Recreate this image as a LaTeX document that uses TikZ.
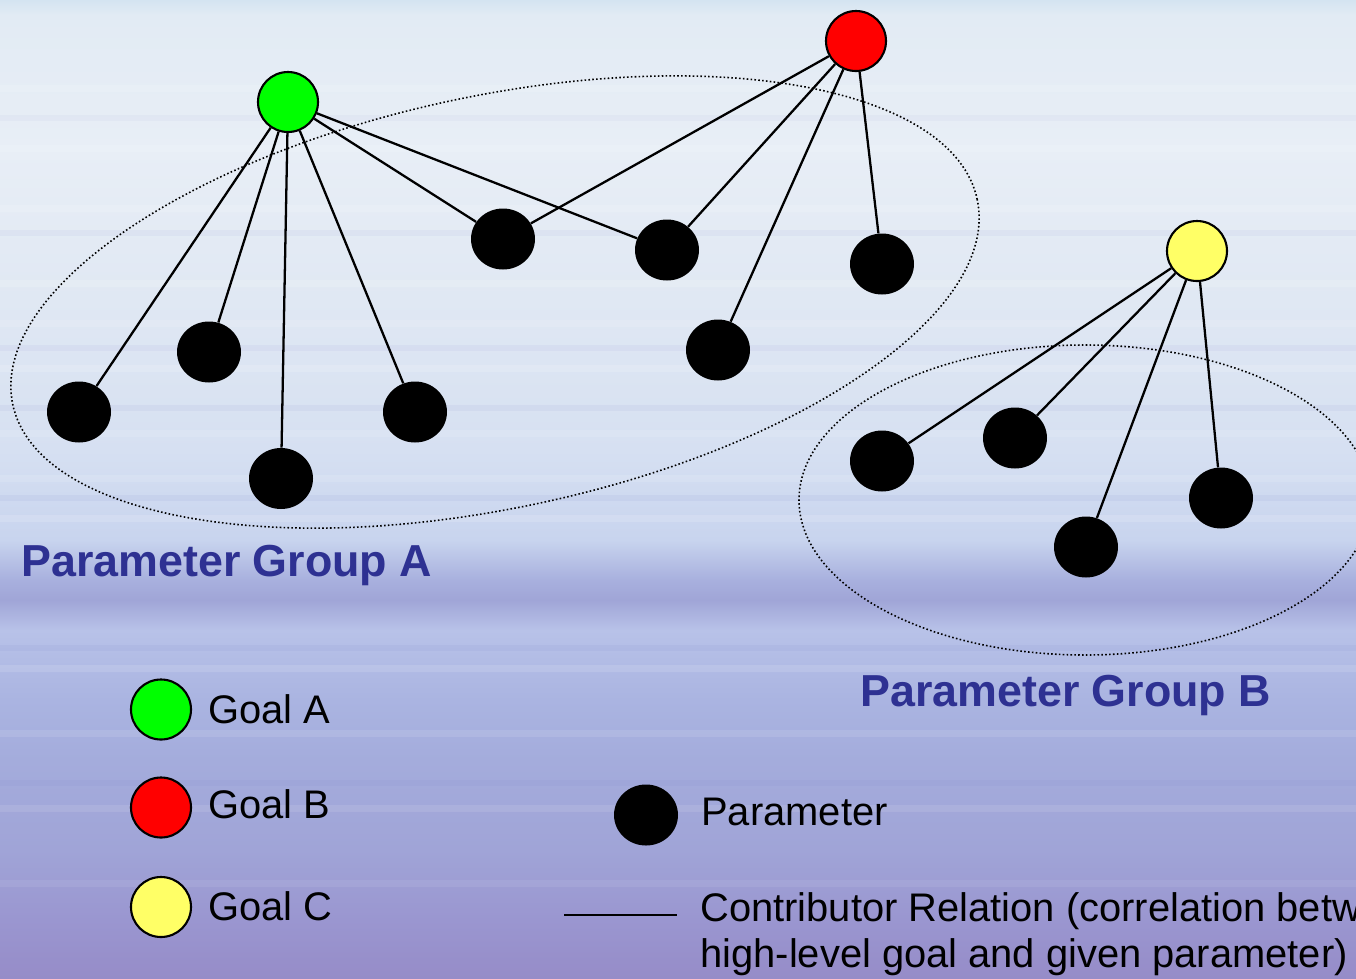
\documentclass[tikz,border=0pt]{standalone}
\usepackage{fontspec}
\setmainfont{Liberation Sans}
\usetikzlibrary{shapes.geometric}
\definecolor{grpblue}{RGB}{46,49,146}
\definecolor{goalyellow}{RGB}{255,255,102}
\definecolor{bg0}{RGB}{212,228,241}
\definecolor{bg1}{RGB}{226,235,244}
\definecolor{bg2}{RGB}{232,238,246}
\definecolor{bg3}{RGB}{224,232,243}
\definecolor{bg4}{RGB}{214,224,242}
\definecolor{bg5}{RGB}{200,212,238}
\definecolor{bg6}{RGB}{168,176,222}
\definecolor{bg7}{RGB}{160,165,215}
\definecolor{bg8}{RGB}{184,194,232}
\definecolor{bg9}{RGB}{170,180,225}
\definecolor{bg10}{RGB}{164,172,220}
\definecolor{bg11}{RGB}{160,164,215}
\definecolor{bg12}{RGB}{154,150,208}
\definecolor{bg13}{RGB}{150,140,200}
\tikzset{
  goal/.style={circle, draw=black, line width=1.2pt, minimum size=1.2cm, inner sep=0pt},
  param/.style={ellipse, fill=black, minimum width=1.28cm, minimum height=1.22cm, inner sep=0pt},
  edge/.style={draw=black, line width=1.3pt},
  grp/.style={draw=black, line width=0.9pt, dash pattern=on 0.9pt off 1.3pt},
  grplabel/.style={anchor=base west, inner sep=0pt, text=grpblue, font=\fontsize{25.5}{30}\selectfont\bfseries},
  legtext/.style={anchor=base west, inner sep=0pt, text=black, font=\fontsize{22.7}{27}\selectfont},
}
\begin{document}
\begin{tikzpicture}
\useasboundingbox (0,0) rectangle (27.12,-19.56);
\clip (0,0) rectangle (27.12,-19.56);
% background bands (py/50)
\shade[top color=bg0, bottom color=bg1] (0,0) rectangle (27.12,-0.3);
\shade[top color=bg1, bottom color=bg2] (0,-0.3) rectangle (27.12,-3);
\shade[top color=bg2, bottom color=bg3] (0,-3) rectangle (27.12,-6);
\shade[top color=bg3, bottom color=bg4] (0,-6) rectangle (27.12,-9);
\shade[top color=bg4, bottom color=bg5] (0,-9) rectangle (27.12,-10.8);
\shade[top color=bg5, bottom color=bg6] (0,-10.8) rectangle (27.12,-11.6);
\shade[top color=bg6, bottom color=bg7] (0,-11.6) rectangle (27.12,-12);
\shade[top color=bg7, bottom color=bg8] (0,-12) rectangle (27.12,-12.6);
\shade[top color=bg8, bottom color=bg9] (0,-12.6) rectangle (27.12,-14);
\shade[top color=bg9, bottom color=bg10] (0,-14) rectangle (27.12,-15.2);
\shade[top color=bg10, bottom color=bg11] (0,-15.2) rectangle (27.12,-17);
\shade[top color=bg11, bottom color=bg12] (0,-17) rectangle (27.12,-18.4);
\shade[top color=bg12, bottom color=bg13] (0,-18.4) rectangle (27.12,-19.56);
% subtle streaks
\foreach \y/\o in {-1.7/0.15,-2.9/0.12,-4.1/0.12,-5.6/0.15,-6.4/0.12,-7.3/0.15,-8.6/0.12,-9.5/0.12,-10.3/0.15,-13.3/0.12,-14.6/0.1,-16.1/0.1,-17.6/0.08}
  \fill[white, opacity=\o] (0,\y) rectangle (27.12,\y-0.14);
\foreach \y/\o in {-2.3/0.025,-4.6/0.03,-6.9/0.03,-8.1/0.035,-9.9/0.035,-12.9/0.03,-15.6/0.025}
  \fill[blue!60!black, opacity=\o] (0,\y) rectangle (27.12,\y-0.12);
% group ellipses
\draw[grp, rotate around={12:(9.9,-6.04)}] (9.9,-6.04) ellipse (9.86 and 4.12);
\draw[grp] (21.7,-10.0) ellipse (5.72 and 3.1);
% goals
\node[goal, fill=green] (A) at (5.76,-2.04) {};
\node[goal, fill=red] (B) at (17.12,-0.82) {};
\node[goal, fill=goalyellow] (C) at (23.94,-5.02) {};
% parameters group A
\node[param] (P1) at (1.58,-8.24) {};
\node[param] (P2) at (4.18,-7.04) {};
\node[param] (P3) at (5.62,-9.57) {};
\node[param] (P4) at (8.30,-8.24) {};
\node[param] (P5) at (10.06,-4.78) {};
\node[param] (P6) at (13.34,-5.00) {};
\node[param] (P7) at (17.64,-5.28) {};
\node[param] (P8) at (14.36,-7.00) {};
% parameters group B
\node[param] (Q1) at (17.64,-9.22) {};
\node[param] (Q2) at (20.30,-8.76) {};
\node[param] (Q3) at (21.72,-10.94) {};
\node[param] (Q4) at (24.42,-9.96) {};
% contributor relations
\foreach \p in {P1,P2,P3,P4,P5,P6} \draw[edge] (A) -- (\p);
\foreach \p in {P5,P6,P8,P7} \draw[edge] (B) -- (\p);
\foreach \p in {Q1,Q2,Q3,Q4} \draw[edge] (C) -- (\p);
% group labels
\node[grplabel] (gA) at (0.42,-11.52) {Parameter Group A};
\node[grplabel] (gB) at (17.2,-14.12) {Parameter Group B};
% legend
\node[goal, fill=green] (LA) at (3.22,-14.19) {};
\node[goal, fill=red] (LB) at (3.22,-16.15) {};
\node[goal, fill=goalyellow] (LC) at (3.22,-18.14) {};
\node[legtext] (tA) at (4.16,-14.46) {Goal A};
\node[legtext] (tB) at (4.16,-16.36) {Goal B};
\node[legtext] (tC) at (4.16,-18.40) {Goal C};
\node[param] (LP) at (12.92,-16.30) {};
\node[legtext] (tP) at (14.02,-16.50) {Parameter};
\coordinate (L1) at (11.28,-18.30);
\coordinate (L2) at (13.54,-18.30);
\draw[edge, line width=1pt] (L1) -- (L2);
\node[legtext] (tR1) at (14.0,-18.42) {Contributor Relation (correlation betw};
\node[legtext] (tR2) at (14.0,-19.34) {high-level goal and given parameter)};
\end{tikzpicture}
\end{document}
